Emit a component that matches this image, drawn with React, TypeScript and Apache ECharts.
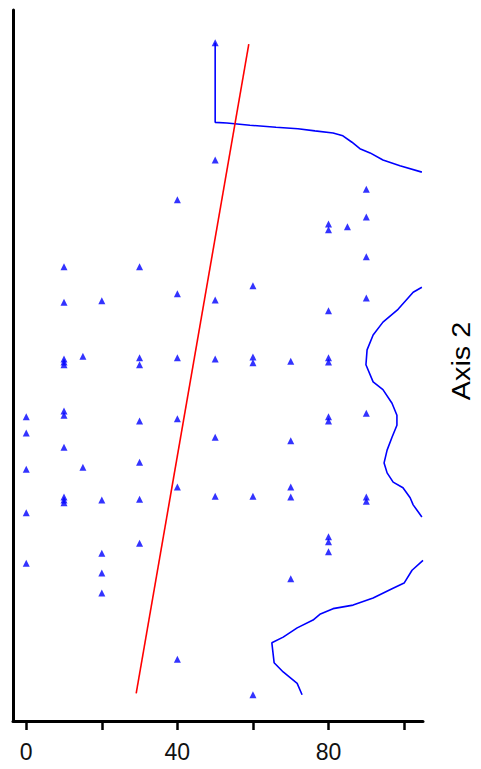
import React, { useEffect, useRef } from "react";
import * as echarts from "echarts";

// Scatter points [x, y]
const pointsX0: number[][] = [[0, 42.8], [0, 40.5], [0, 35.4], [0, 29.3], [0, 22.2]];
const pointsX10: number[][] = [[10, 63.9], [10, 58.9], [10, 50.9], [10, 50.5], [10, 50.1], [10, 43.6], [10, 43.0], [10, 38.5], [10, 31.5], [10, 31.1], [10, 30.7]];
const pointsX15: number[][] = [[15, 51.3], [15, 35.7]];
const pointsX20: number[][] = [[20, 59.1], [20, 31.1], [20, 23.6], [20, 20.8], [20, 18.0]];
const pointsX30: number[][] = [[30, 63.9], [30, 51.1], [30, 50.1], [30, 42.2], [30, 36.4], [30, 31.2], [30, 25.0]];
const pointsX40: number[][] = [[40, 73.3], [40, 60.1], [40, 51.1], [40, 42.5], [40, 32.9], [40, 8.7]];
const pointsX50: number[][] = [[50, 95.4], [50, 78.9], [50, 59.2], [50, 50.9], [50, 39.9], [50, 31.6]];
const pointsX60: number[][] = [[60, 61.2], [60, 51.2], [60, 50.4], [60, 31.6], [60, 3.7]];
const pointsX70: number[][] = [[70, 50.6], [70, 39.4], [70, 32.9], [70, 31.5], [70, 20.0]];
const pointsX80: number[][] = [[80, 69.9], [80, 69.1], [80, 57.7], [80, 51.1], [80, 50.5], [80, 42.8], [80, 42.2], [80, 25.9], [80, 25.2], [80, 23.8]];
const pointsX85: number[][] = [[85, 69.5]];
const pointsX90: number[][] = [[90, 74.8], [90, 70.9], [90, 65.3], [90, 59.5], [90, 43.3], [90, 31.5], [90, 30.9]];

const regressionLine: number[][] = [[29.1, 3.9], [58.9, 95.2]];

const blueCurveTop: number[][] = [
  [50, 95.4], [50, 84.2], [53.1, 84.1], [59.2, 83.8], [66.1, 83.5], [71.9, 83.3], [76.4, 83.0],
  [81.2, 82.7], [83.8, 82.3], [86.2, 81.4], [88.3, 80.5], [91.0, 79.9], [94.4, 78.9], [98.9, 78.1], [104.7, 77.2],
];
const blueCurveMiddle: number[][] = [
  [104.7, 61.0], [102.4, 60.3], [98.4, 57.9], [94.4, 56.1], [91.8, 54.3], [90.2, 52.2], [89.9, 50.1],
  [91.8, 47.7], [94.4, 46.6], [96.8, 44.7], [98.1, 43.0], [98.1, 41.6], [96.8, 39.9], [95.5, 38.1],
  [94.7, 36.3], [95.5, 34.9], [97.1, 33.6], [99.7, 32.8], [101.6, 31.4], [102.4, 30.4], [104.7, 28.7],
];
const blueCurveBottom: number[][] = [
  [105, 22.6], [102.1, 21.2], [100.0, 19.4], [96.8, 18.6], [91.8, 17.3], [86.5, 16.3], [81.2, 15.8],
  [77.7, 15.0], [75.9, 14.2], [71.7, 13.1], [68.0, 11.8], [65.0, 11.0], [65.6, 8.2], [68.0, 6.9],
  [71.7, 5.3], [73.0, 3.7],
];

const xTickValues: number[] = [0, 20, 40, 60, 80, 100];
const xLabelValues: number[] = [0, 40, 80];
const axisTitle = "Axis 2";

export default function App() {
  const ref = useRef<HTMLDivElement>(null);
  useEffect(() => {
    if (!ref.current) return;
    const chart = echarts.init(ref.current, undefined, { renderer: "svg" });
    const allPoints = [
      ...pointsX0, ...pointsX10, ...pointsX15, ...pointsX20, ...pointsX30, ...pointsX40,
      ...pointsX50, ...pointsX60, ...pointsX70, ...pointsX80, ...pointsX85, ...pointsX90,
    ];
    const blue = "#0000ff";
    const lineSeries = (data: number[][], color: string, z: number) => ({
      type: "line",
      data,
      symbol: "none",
      clip: true,
      z,
      lineStyle: { color, width: 1.6 },
      silent: true,
    });
    chart.setOption({
      animation: false,
      backgroundColor: "#ffffff",
      grid: { left: 13, right: 58, top: 10, bottom: 48 },
      xAxis: {
        type: "value",
        min: -3.5,
        max: 105,
        splitLine: { show: false },
        axisLine: { show: true, onZero: false, lineStyle: { color: "#000", width: 3 } },
        axisTick: {
          show: true,
          customValues: xTickValues,
          length: 9,
          lineStyle: { color: "#000", width: 2.5 },
        },
        axisLabel: {
          customValues: xLabelValues,
          fontSize: 23,
          color: "#111",
          fontFamily: "Liberation Sans, Arial, sans-serif",
          margin: 19,
        },
      },
      yAxis: {
        type: "value",
        min: 0,
        max: 100,
        splitLine: { show: false },
        axisLine: { show: true, onZero: false, lineStyle: { color: "#000", width: 3 } },
        axisTick: { show: false },
        axisLabel: { show: false },
      },
      graphic: [
        {
          type: "text",
          x: 462,
          y: 361,
          rotation: Math.PI / 2,
          scaleX: 1.15,
          style: {
            text: axisTitle,
            fontSize: 25,
            fontFamily: "Liberation Sans, Arial, sans-serif",
            fill: "#000",
            textAlign: "center",
            textVerticalAlign: "middle",
          },
        },
      ],
      series: [
        lineSeries(regressionLine, "#ff0000", 3),
        lineSeries(blueCurveTop, blue, 2),
        lineSeries(blueCurveMiddle, blue, 2),
        lineSeries(blueCurveBottom, blue, 2),
        {
          type: "scatter",
          data: allPoints,
          symbol: "triangle",
          symbolSize: 7,
          itemStyle: { color: blue },
          z: 4,
        },
      ],
    });
    return () => chart.dispose();
  }, []);
  return (
    <div
      ref={ref}
      style={{ position: "fixed", left: 0, top: 0, width: 481, height: 769, background: "#fff" }}
    />
  );
}
